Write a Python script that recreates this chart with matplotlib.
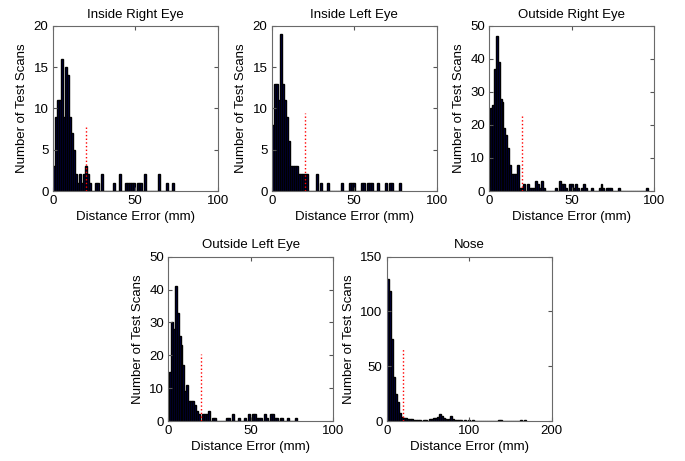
import matplotlib.pyplot as plt
import numpy as np

plt.rcParams['font.family'] = ['Liberation Sans', 'DejaVu Sans']

titles = ['Inside Right Eye', 'Inside Left Eye', 'Outside Right Eye',
          'Outside Left Eye', 'Nose']

# histogram counts (bins of equal width, left to right)
inside_right = [3, 9, 11, 11, 16, 9, 15, 14, 9, 7, 5, 2, 1, 2, 1, 2, 3, 2, 1,
                0, 0, 1, 1, 0, 2, 0, 0, 0, 0, 0, 1, 0, 0, 2, 0, 0,
                1, 1, 1, 1, 1, 0, 1, 1, 1, 0, 2, 0, 0, 0, 0, 0, 0, 2,
                0, 0, 0, 1, 0, 0, 1]
inside_left = [8, 13, 13, 11, 19, 13, 11, 9, 6, 3, 3, 3, 3, 2, 2, 2, 2, 2,
               0, 0, 0, 0, 2, 0, 1, 0, 0, 0, 1, 0, 0, 0, 0, 0, 0, 1,
               0, 0, 0, 1, 1, 1, 0, 0, 0, 1, 1, 0, 1, 1, 1, 0, 0, 1,
               0, 0, 0, 1, 0, 1, 1, 0, 0, 0, 1]
outside_right = [25, 26, 37, 47, 39, 28, 27, 19, 17, 13, 8, 5, 5, 5, 8, 1, 1,
                 2, 0, 2, 1, 1, 1, 3, 2, 1, 3, 1, 0, 0, 0, 0, 0, 1, 0,
                 3, 2, 2, 1, 0, 2, 2, 1, 2, 1, 0, 1, 2, 1, 0, 0, 1,
                 0, 0, 0, 1, 2, 1, 0, 1, 1, 1, 0, 0, 0, 1,
                 0, 0, 0, 0, 0, 0, 0, 0, 0, 0, 0, 0, 0, 1]
outside_left = [15, 30, 28, 41, 33, 26, 23, 17, 9, 11, 6, 6, 6, 5, 3, 2,
                0, 2, 2, 2, 3, 0, 1, 1, 0, 0, 0, 0, 0, 1, 1, 0, 2, 0, 0,
                1, 0, 0, 1, 0, 2, 0, 2, 2, 1, 1, 1, 0, 2, 1, 0, 2, 2, 1,
                1, 0, 1, 1, 0, 0, 1, 0, 0, 0, 1]
nose = [130, 119, 75, 40, 25, 17, 7, 4, 3, 3, 2, 2, 2, 1, 1, 1, 1,
        0, 1, 1, 0, 2, 2, 3, 3, 4, 6, 5, 3, 2, 1, 2, 5, 2, 1, 1, 1, 1,
        0, 1, 0, 1, 0, 1, 0, 0, 0, 0, 0, 0, 0, 0, 0, 0, 0, 0, 1, 1,
        0, 0, 0, 0, 0, 0, 0, 0, 0, 1, 0, 1]

counts = [inside_right, inside_left, outside_right, outside_left, nose]
bin_start = [0.4, 0.2, 0.2, 0.2, 0.5]
bin_width = [1.2, 1.2, 1.2, 1.2, 2.4]
threshold = 20
thr_height = [8, 9.4, 23.4, 20.4, 65.5]
ymax = [20, 20, 50, 50, 150]
xmax = [100, 100, 100, 100, 200]
yticks = [[0, 5, 10, 15, 20], [0, 5, 10, 15, 20], [0, 10, 20, 30, 40, 50],
          [0, 10, 20, 30, 40, 50], [0, 50, 100, 150]]

W, H = 685, 461
boxes = [(52.7, 26, 165, 165), (271.7, 26, 165, 165), (489.3, 26, 165, 165),
         (168.3, 256.7, 165, 164.3), (386.7, 256.7, 165, 164.3)]

fig = plt.figure(figsize=(6.85, 4.61), dpi=100)
for i in range(5):
    x0, y0, w, h = boxes[i]
    ax = fig.add_axes([x0 / W, 1 - (y0 + h) / H, w / W, h / H])
    c = np.array(counts[i])
    centers = bin_start[i] + bin_width[i] * (np.arange(len(c)) + 0.5)
    ax.bar(centers, c, width=bin_width[i], color='#000050', edgecolor='black',
           linewidth=1.0)
    ax.plot([threshold, threshold], [0, thr_height[i]], color='red',
            linestyle=':', linewidth=1.0)
    ax.set_xlim(0, xmax[i])
    ax.set_ylim(0, ymax[i])
    ax.set_xticks([0, xmax[i] / 2, xmax[i]])
    ax.set_xticklabels([str(int(v)) for v in [0, xmax[i] / 2, xmax[i]]])
    ax.set_yticks(yticks[i])
    ax.tick_params(direction='in', top=True, right=True, length=3,
                   color='#555555', labelsize=9.5, pad=3)
    for s in ax.spines.values():
        s.set_color('#6a6a6a')
        s.set_linewidth(0.8)
    ax.set_title(titles[i], fontsize=9.5, pad=6)
    ax.set_xlabel('Distance Error (mm)', fontsize=9.5, labelpad=3)
    ax.set_ylabel('Number of Test Scans', fontsize=9.5, labelpad=4)

fig.savefig('out.png', dpi=100)
